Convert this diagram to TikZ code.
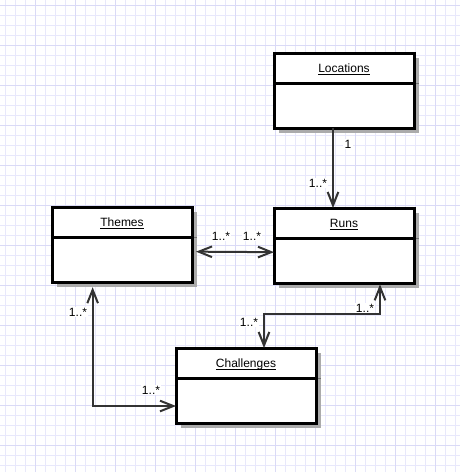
\documentclass[tikz,border=0pt]{standalone}
\usepackage{amsmath}
\usepackage{fontspec}
\setmainfont{Liberation Sans}
\usepackage{xcolor}
\usetikzlibrary{arrows.meta,positioning,backgrounds}

\definecolor{gridminor}{HTML}{E8E8FB}
\definecolor{gridmajor}{HTML}{DADAF6}
\definecolor{linkgray}{HTML}{333333}
\definecolor{shadowgray}{HTML}{ABABAB}

\begin{document}
\begin{tikzpicture}[x=0.75pt, y=-0.75pt,
    umlclass/.style={draw, line width=2.25pt, fill=white, outer sep=0pt, inner sep=0pt,
        minimum width=105pt, minimum height=56.25pt},
    classname/.style={anchor=base, inner sep=0pt, font=\fontsize{9}{10}\selectfont},
    mult/.style={fill=white, inner sep=1pt, font=\fontsize{9}{10}\selectfont},
    assoc/.style={draw=linkgray, line width=1.5pt},
    >={Straight Barb[length=10pt, width=8pt]}]
    \useasboundingbox (0,0) rectangle (460,472);

    % classes
    \node(loc) [umlclass] at (344,90.5) {};
    \node(runs) [umlclass] at (344,245.5) {};
    \node(themes) [umlclass] at (122,245) {};
    \node(chal) [umlclass] at (246,385.5) {};

    \foreach \c in {loc,runs,themes,chal}
        \draw[line width=2.25pt] ([yshift=-22.5pt]\c.north west) -- ([yshift=-22.5pt]\c.north east);

    % background grid and shadows
    \begin{pgfonlayer}{background}
    \fill[white] (0,0) rectangle (460,472);
    \foreach \gx in {5,15,...,455} \draw[gridminor, line width=0.75pt] (\gx,0) -- (\gx,472);
    \foreach \gy in {5,15,...,465} \draw[gridminor, line width=0.75pt] (0,\gy) -- (460,\gy);
    \foreach \gx in {35,75,...,435} \draw[gridmajor, line width=0.75pt] (\gx,0) -- (\gx,472);
    \foreach \gy in {5,45,...,445} \draw[gridmajor, line width=0.75pt] (0,\gy) -- (460,\gy);
    \foreach \c in {loc,runs,themes,chal} {
        \fill[shadowgray] ([xshift=3.5pt, yshift=-3.5pt]\c.south west) rectangle ([xshift=3.5pt, yshift=-3.5pt]\c.north east);
        \draw[black!55, line width=0.75pt] ([yshift=-22.5pt]\c.north east) -- ++(5,0);
    }
    \end{pgfonlayer}

    \node(loctitle) [classname] at ([yshift=-14.6pt]loc.north) {\underline{\smash[b]{Locations}}};
    \node(runstitle) [classname] at ([yshift=-14.6pt]runs.north) {\underline{\smash[b]{Runs}}};
    \node(themestitle) [classname] at ([yshift=-14.6pt]themes.north) {\underline{\smash[b]{Themes}}};
    \node(chaltitle) [classname] at ([yshift=-14.6pt]chal.north) {\underline{\smash[b]{Challenges}}};

    % associations
    \draw[assoc, ->] ([xshift=-8.25pt]loc.south) -- ([xshift=-8.25pt]runs.north);
    \draw[assoc, <->] ([xshift=3pt, yshift=-5pt]themes.east) -- ([yshift=-5pt]runs.west);
    \draw[assoc, <->] ([xshift=-22pt, yshift=-3.5pt]themes.south) |- ([yshift=-15.4pt]chal.west);
    \draw[assoc, <->] ([xshift=27pt, yshift=-1pt]runs.south) -- ++(0,30) -| ([xshift=13.5pt]chal.north);

    % multiplicities
    \node(m1) [mult] at (348,144) {1};
    \node(m2) [mult] at (318,183) {1..*};
    \node(m3) [mult] at (221,236) {1..*};
    \node(m4) [mult] at (252,236) {1..*};
    \node(m5) [mult] at (78,312) {1..*};
    \node(m6) [mult] at (151,390) {1..*};
    \node(m7) [mult] at (365,308) {1..*};
    \node(m8) [mult] at (249,322) {1..*};
\end{tikzpicture}
\end{document}
